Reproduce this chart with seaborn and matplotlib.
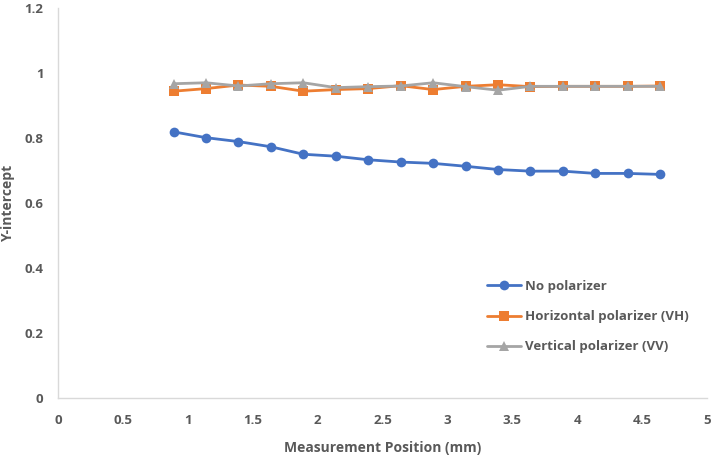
import matplotlib
matplotlib.use("Agg")
import matplotlib.pyplot as plt
import pandas as pd
import seaborn as sns
from matplotlib.ticker import FuncFormatter

position_mm = [0.89, 1.14, 1.39, 1.64, 1.89, 2.14, 2.39, 2.64,
               2.89, 3.14, 3.39, 3.64, 3.89, 4.14, 4.39, 4.64]
no_polarizer = [0.819, 0.801, 0.789, 0.773, 0.750, 0.744, 0.733, 0.726,
                0.722, 0.713, 0.703, 0.698, 0.698, 0.691, 0.691, 0.688]
horizontal_vh = [0.944, 0.952, 0.963, 0.959, 0.944, 0.949, 0.952, 0.961,
                 0.949, 0.959, 0.964, 0.958, 0.959, 0.959, 0.959, 0.960]
vertical_vv = [0.967, 0.970, 0.960, 0.967, 0.970, 0.955, 0.958, 0.960,
               0.970, 0.958, 0.947, 0.959, 0.959, 0.959, 0.959, 0.959]

series = ["No polarizer", "Horizontal polarizer (VH)", "Vertical polarizer (VV)"]
colors = ["#4472C4", "#ED7D31", "#A5A5A5"]
markers = ["o", "s", "^"]

data = pd.concat(
    [
        pd.DataFrame({"x": position_mm, "y": vals, "Series": name})
        for name, vals in zip(series, [no_polarizer, horizontal_vh, vertical_vv])
    ],
    ignore_index=True,
)

sns.set_style("white")
plt.rcParams["font.family"] = ["Open Sans", "DejaVu Sans"]
plt.rcParams["font.weight"] = "bold"

fig = plt.figure(figsize=(7.12, 4.55), dpi=100)
ax = fig.add_axes([0.0815, 0.1253, 0.9115, 0.8571])

sns.lineplot(
    data=data, x="x", y="y", hue="Series", style="Series",
    hue_order=series, style_order=series,
    palette=dict(zip(series, colors)),
    markers=dict(zip(series, markers)), dashes=False,
    linewidth=2.0, markersize=7, markeredgewidth=0, ax=ax,
)

ax.set_xlim(0, 5)
ax.set_ylim(0, 1.2)
ax.set_xticks([i * 0.5 for i in range(11)])
ax.set_yticks([i * 0.2 for i in range(7)])
fmt = FuncFormatter(lambda v, p: f"{v:g}")
ax.xaxis.set_major_formatter(fmt)
ax.yaxis.set_major_formatter(fmt)
ax.tick_params(axis="both", length=0, labelsize=9.5, labelcolor="#595959")
ax.tick_params(axis="x", pad=11.5)
ax.tick_params(axis="y", pad=10.5)
for lbl in ax.get_xticklabels() + ax.get_yticklabels():
    lbl.set_fontweight("bold")

sns.despine(ax=ax)
for s in ["left", "bottom"]:
    ax.spines[s].set_color("#D9D9D9")
    ax.spines[s].set_linewidth(1.0)

ax.set_xlabel("Measurement Position (mm)", fontsize=10, fontweight="bold",
              color="#595959")
ax.set_ylabel("Y-intercept", fontsize=10, fontweight="bold", color="#595959")
ax.xaxis.set_label_coords(0.5, -0.11)
ax.yaxis.set_label_coords(-0.066, 0.5)

leg = ax.legend(
    loc="upper left", bbox_to_anchor=(487 / 712, 1 - 280 / 455),
    bbox_transform=fig.transFigure, frameon=False, fontsize=9.5,
    handlelength=2.6, handletextpad=0.3, labelspacing=1.3,
    borderpad=0, borderaxespad=0,
)
for t in leg.get_texts():
    t.set_color("#595959")
    t.set_fontweight("bold")

fig.savefig("out.png", dpi=100)
